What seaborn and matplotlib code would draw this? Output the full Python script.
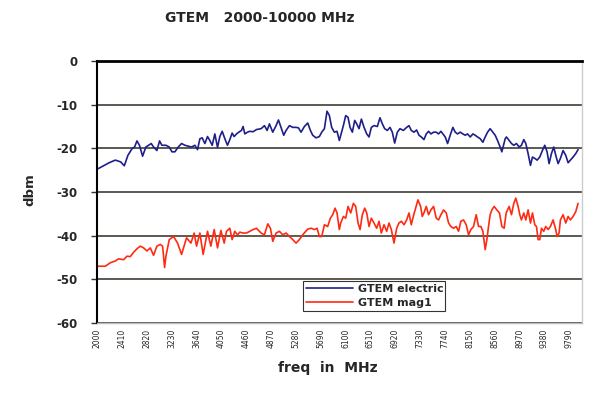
import pandas as pd
import seaborn as sns
import matplotlib
matplotlib.use("Agg")
import matplotlib.pyplot as plt

# Values (freq in MHz, level in dbm)
FREQ_ELECTRIC = [
    2000, 2200, 2302, 2390, 2450, 2510, 2577, 2620, 2659, 2700, 2752, 2806, 2851, 2895,
    2933, 2988, 3032, 3070, 3137, 3192, 3236, 3285, 3340, 3395, 3450, 3505, 3560, 3614,
    3658, 3697, 3735, 3779, 3823, 3861, 3900, 3944, 3988, 4026, 4065, 4109, 4152, 4191,
    4229, 4262, 4301, 4339, 4383, 4410, 4438, 4482, 4520, 4575, 4630, 4707, 4762, 4806,
    4844, 4899, 4954, 4993, 5036, 5080, 5119, 5174, 5229, 5283, 5322, 5366, 5421, 5476,
    5520, 5558, 5613, 5668, 5707, 5751, 5794, 5833, 5871, 5915, 5959, 5997, 6064, 6102,
    6141, 6174, 6212, 6251, 6284, 6322, 6361, 6405, 6449, 6487, 6525, 6569, 6624, 6668,
    6707, 6745, 6789, 6833, 6871, 6910, 6954, 6998, 7053, 7108, 7146, 7184, 7228, 7272,
    7311, 7349, 7393, 7431, 7469, 7508, 7552, 7596, 7634, 7673, 7706, 7744, 7783, 7826,
    7870, 7909, 7947, 7991, 8035, 8074, 8112, 8156, 8200, 8238, 8277, 8321, 8365, 8403,
    8442, 8485, 8529, 8568, 8606, 8650, 8678, 8705, 8733, 8754, 8798, 8837, 8875, 8919,
    8963, 9001, 9040, 9073, 9111, 9150, 9183, 9221, 9260, 9303, 9347, 9386, 9424, 9457,
    9496, 9534, 9567, 9606, 9644, 9688, 9732, 9771, 9809, 9853, 9897, 9935,
]
DBM_ELECTRIC = [
    -24.8, -23.3, -22.7, -23.1, -24.0, -21.6, -20.1, -19.7, -18.3, -19.3, -21.8, -19.7, -19.3, -18.9,
    -19.7, -20.5, -18.3, -19.3, -19.3, -19.7, -20.8, -20.8, -19.7, -18.9, -19.3, -19.5, -19.7, -19.3,
    -20.3, -17.8, -17.6, -18.9, -17.3, -18.2, -19.3, -16.7, -19.8, -17.3, -16.1, -17.8, -19.3, -18.0,
    -16.5, -17.3, -16.7, -16.3, -15.9, -15.0, -16.7, -16.3, -16.1, -16.2, -15.7, -15.5, -14.8, -15.9,
    -14.4, -16.3, -14.8, -13.5, -15.2, -17.0, -15.9, -14.8, -15.2, -15.2, -15.3, -16.3, -15.0, -14.2,
    -15.9, -17.0, -17.6, -17.3, -16.3, -15.5, -11.5, -12.5, -15.2, -16.3, -16.1, -18.2, -14.8, -12.5,
    -12.9, -15.2, -16.3, -13.6, -14.4, -15.5, -13.3, -15.2, -16.7, -17.4, -15.2, -14.8, -15.0, -13.0,
    -14.4, -15.5, -15.9, -15.2, -16.3, -18.8, -16.3, -15.5, -15.9, -15.2, -14.8, -15.9, -16.3, -15.8,
    -17.0, -17.4, -18.0, -16.7, -16.1, -16.7, -16.3, -16.3, -16.7, -16.1, -16.7, -17.4, -18.9, -17.0,
    -15.2, -16.3, -16.7, -16.3, -16.7, -17.0, -16.7, -17.4, -16.7, -17.0, -17.4, -17.8, -18.6, -17.4,
    -16.3, -15.5, -16.3, -17.0, -18.2, -19.7, -20.8, -19.3, -17.8, -17.4, -18.2, -18.9, -19.3, -18.9,
    -19.7, -19.3, -18.0, -18.9, -21.2, -23.9, -22.0, -22.3, -22.7, -22.0, -20.5, -19.3, -20.8, -23.5,
    -21.2, -19.7, -21.6, -23.5, -22.3, -20.5, -21.6, -23.3, -22.7, -22.0, -21.2, -20.3,
]

FREQ_MAG = [
    2000, 2137, 2220, 2302, 2357, 2440, 2494, 2549, 2604, 2659, 2714, 2769, 2824, 2879,
    2933, 2988, 3043, 3082, 3115, 3137, 3192, 3263, 3329, 3395, 3477, 3549, 3603, 3642,
    3697, 3751, 3823, 3878, 3933, 3988, 4043, 4098, 4136, 4191, 4229, 4273, 4317, 4356,
    4410, 4465, 4520, 4575, 4630, 4707, 4762, 4817, 4861, 4899, 4954, 5009, 5064, 5119,
    5174, 5229, 5283, 5338, 5393, 5476, 5531, 5586, 5630, 5668, 5707, 5751, 5805, 5849,
    5888, 5926, 5959, 5997, 6020, 6064, 6102, 6141, 6185, 6229, 6267, 6306, 6339, 6377,
    6416, 6449, 6487, 6525, 6569, 6613, 6652, 6690, 6734, 6778, 6817, 6855, 6899, 6943,
    6981, 7020, 7064, 7108, 7146, 7184, 7217, 7256, 7294, 7338, 7365, 7393, 7431, 7469,
    7508, 7552, 7596, 7634, 7673, 7717, 7761, 7799, 7837, 7881, 7925, 7964, 8002, 8046,
    8090, 8129, 8167, 8211, 8255, 8293, 8332, 8365, 8403, 8431, 8458, 8485, 8513, 8551,
    8595, 8639, 8678, 8716, 8749, 8798, 8837, 8875, 8908, 8946, 8974, 9001, 9040, 9073,
    9111, 9150, 9183, 9221, 9249, 9276, 9303, 9331, 9369, 9402, 9441, 9479, 9523, 9567,
    9589, 9622, 9644, 9688, 9732, 9771, 9809, 9853, 9897, 9935,
]
DBM_MAG = [
    -47.0, -47.0, -46.2, -45.8, -45.3, -45.5, -44.7, -44.8, -43.8, -43.0, -42.4, -42.8, -43.5, -42.8,
    -44.5, -42.4, -42.0, -42.4, -47.3, -44.7, -40.9, -40.2, -41.7, -44.3, -40.5, -41.7, -39.4, -42.4,
    -39.4, -44.3, -39.0, -42.4, -38.6, -42.8, -38.8, -41.7, -39.0, -38.3, -40.9, -39.0, -39.8, -39.2,
    -39.4, -39.4, -39.0, -38.6, -38.3, -39.4, -39.8, -37.3, -38.3, -41.3, -39.4, -39.0, -39.8, -39.4,
    -40.2, -40.9, -41.7, -40.9, -39.8, -38.5, -38.3, -38.6, -38.3, -40.2, -40.2, -37.5, -37.9, -36.0,
    -35.2, -33.7, -34.8, -38.6, -37.1, -35.6, -36.0, -33.3, -34.8, -32.6, -33.3, -37.1, -38.6, -35.2,
    -33.7, -34.8, -37.9, -36.0, -37.1, -38.3, -36.7, -39.4, -37.5, -39.0, -37.1, -38.6, -41.7, -38.3,
    -37.1, -36.7, -37.5, -36.4, -34.8, -37.5, -35.6, -33.7, -31.8, -33.3, -35.6, -34.8, -33.3, -35.2,
    -34.1, -33.3, -36.0, -36.4, -35.2, -34.1, -34.8, -37.1, -37.9, -38.3, -37.9, -39.0, -36.7, -36.4,
    -37.5, -39.8, -38.6, -37.9, -35.2, -37.9, -37.9, -39.0, -43.2, -40.9, -37.9, -35.2, -34.1, -33.3,
    -34.1, -34.8, -37.9, -38.3, -34.8, -33.3, -35.2, -32.6, -31.4, -33.3, -35.2, -36.4, -34.8, -36.4,
    -34.1, -37.1, -34.8, -37.5, -37.9, -40.9, -40.9, -38.3, -39.0, -37.9, -38.6, -37.9, -36.4, -38.6,
    -40.2, -39.4, -36.4, -35.2, -37.1, -35.6, -36.4, -35.6, -34.5, -32.6,
]

SERIES = ["GTEM electric", "GTEM mag1"]
COLORS = ["#1f1f8a", "#ff2a12"]
X_TICKS = [2000, 2410, 2820, 3230, 3640, 4050, 4460, 4870, 5280, 5690,
           6100, 6510, 6920, 7330, 7740, 8150, 8560, 8970, 9380, 9790]
Y_TICKS = [-60, -50, -40, -30, -20, -10, 0]


def build_frame():
    electric = pd.DataFrame({"freq": FREQ_ELECTRIC, "dbm": DBM_ELECTRIC, "series": SERIES[0]})
    mag = pd.DataFrame({"freq": FREQ_MAG, "dbm": DBM_MAG, "series": SERIES[1]})
    return pd.concat([electric, mag], ignore_index=True)


def main():
    sns.set_style("white")
    plt.rcParams["font.family"] = ["DejaVu Sans"]

    df = build_frame()

    fig = plt.figure(figsize=(6.04, 3.93), dpi=100)
    ax = fig.add_axes([97 / 604, 1 - 323 / 393, 485 / 604, 262 / 393])

    sns.lineplot(
        data=df, x="freq", y="dbm", hue="series",
        palette=dict(zip(SERIES, COLORS)),
        estimator=None, sort=False, linewidth=1.2, ax=ax,
    )

    ax.set_xlim(2000, 10000)
    ax.set_ylim(-60, 0)
    ax.set_xticks(X_TICKS)
    ax.set_xticklabels([str(t) for t in X_TICKS], rotation=90, fontsize=5.5)
    ax.set_yticks(Y_TICKS)
    ax.set_yticklabels([str(t) for t in Y_TICKS], fontsize=8.5, fontweight="bold")
    ax.tick_params(axis="x", length=0, pad=4)
    ax.tick_params(axis="y", length=4, width=1, color="#333333", pad=10, left=True)

    ax.yaxis.grid(True, color="#4d4d45", linewidth=1.3)
    ax.xaxis.grid(False)
    ax.set_axisbelow(True)

    ax.spines["top"].set_color("black")
    ax.spines["top"].set_linewidth(2)
    ax.spines["left"].set_color("black")
    ax.spines["left"].set_linewidth(1.5)
    ax.spines["bottom"].set_color("#bbbbbb")
    ax.spines["bottom"].set_linewidth(1)
    ax.spines["right"].set_color("#cccccc")
    ax.spines["right"].set_linewidth(1)

    ax.set_xlabel("")
    ax.set_ylabel("")
    fig.text(0.43, 0.955, "GTEM   2000-10000 MHz", ha="center", va="center",
             fontsize=10, fontweight="bold")
    fig.text(0.543, 0.064, "freq  in  MHz", ha="center", va="center",
             fontsize=10, fontweight="bold")
    fig.text(0.05, 0.517, "dbm", ha="center", va="center", rotation=90,
             fontsize=9.5, fontweight="bold")

    handles, labels = ax.get_legend_handles_labels()
    leg = ax.legend(
        handles, labels, loc="lower left", bbox_to_anchor=(0.425, 0.046, 0.293, 0.134),
        mode="expand", prop={"weight": "bold", "size": 8}, frameon=True, fancybox=False,
        edgecolor="black", handlelength=4.2, borderpad=0.3, labelspacing=0.3,
        handletextpad=0.4, borderaxespad=0,
    )
    leg.get_frame().set_linewidth(0.8)

    fig.savefig("out.png", dpi=100)
    plt.close(fig)


if __name__ == "__main__":
    main()
